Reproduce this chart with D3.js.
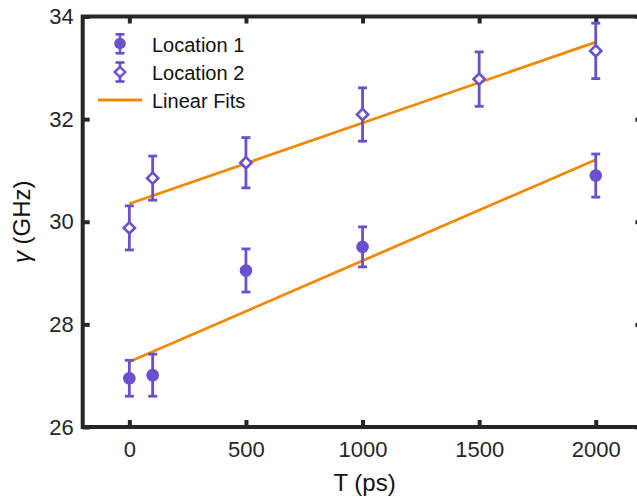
<!DOCTYPE html>
<html>
<head>
<meta charset="utf-8">
<script src="https://cdn.jsdelivr.net/npm/d3@7"></script>
<style>
  body { margin: 0; background: #fff; }
  svg { display: block; }
</style>
</head>
<body>
<svg id="chart" width="637" height="499"></svg>
<script>
// Data
const loc1T = [0, 100, 500, 1000, 2000];
const loc1Gamma = [26.95, 27.01, 29.05, 29.51, 30.90];
const loc1Err = [0.35, 0.41, 0.42, 0.39, 0.42];

const loc2T = [0, 100, 500, 1000, 1500, 2000];
const loc2Gamma = [29.88, 30.85, 31.15, 32.09, 32.78, 33.33];
const loc2Err = [0.43, 0.43, 0.49, 0.52, 0.53, 0.54];

const fitT = [0, 2000];
const fit1Gamma = [27.27, 31.21];
const fit2Gamma = [30.35, 33.50];

const xTicks = [0, 500, 1000, 1500, 2000];
const yTicks = [26, 28, 30, 32, 34];
const legendLabels = ["Location 1", "Location 2", "Linear Fits"];

const purple = "#6a4fcf";
const orange = "#ef8a05";
const axisColor = "#262626";
const font = "'Liberation Sans', Arial, sans-serif";

const svg = d3.select("#chart");
const plotLeft = 82.7, plotRight = 642.4, plotTop = 16.5, plotBottom = 427;

const x = d3.scaleLinear().domain([-200, 2200]).range([plotLeft, plotRight]);
const y = d3.scaleLinear().domain([26, 34]).range([plotBottom, plotTop]);

function styleAxis(g) {
    g.select(".domain").remove();
    g.selectAll(".tick line").attr("stroke", axisColor).attr("stroke-width", 4);
    g.selectAll(".tick text").attr("fill", axisColor);
    g.attr("font-family", font).attr("font-size", 22);
}

// Bottom axis with labels
svg.append("g")
    .attr("transform", `translate(0,${plotBottom})`)
    .call(d3.axisBottom(x).tickValues(xTicks).tickFormat(d3.format("d")).tickSize(-7).tickPadding(14.5))
    .call(styleAxis);

// Top ticks only
svg.append("g")
    .attr("transform", `translate(0,${plotTop})`)
    .call(d3.axisTop(x).tickValues(xTicks).tickSize(-7).tickFormat(""))
    .call(styleAxis);

// Left axis with labels
svg.append("g")
    .attr("transform", `translate(${plotLeft},0)`)
    .call(d3.axisLeft(y).tickValues(yTicks).tickFormat(d3.format("d")).tickSize(-7).tickPadding(9))
    .call(styleAxis);

// Right ticks only
svg.append("g")
    .attr("transform", `translate(${plotRight},0)`)
    .call(d3.axisRight(y).tickValues(yTicks).tickSize(-7).tickFormat(""))
    .call(styleAxis);

// Box
svg.append("rect")
    .attr("x", plotLeft).attr("y", plotTop)
    .attr("width", plotRight - plotLeft).attr("height", plotBottom - plotTop)
    .attr("fill", "none")
    .attr("stroke", axisColor)
    .attr("stroke-width", 4);

// Axis labels
svg.append("text")
    .attr("x", (plotLeft + plotRight) / 2 + 2)
    .attr("y", 491)
    .attr("text-anchor", "middle")
    .attr("font-family", font)
    .attr("font-size", 24)
    .attr("fill", "#111")
    .text("T (ps)");

const yLabel = svg.append("text")
    .attr("transform", `translate(30,${(plotTop + plotBottom) / 2}) rotate(-90)`)
    .attr("text-anchor", "middle")
    .attr("font-family", font)
    .attr("font-size", 24)
    .attr("fill", "#111");
yLabel.append("tspan").attr("font-style", "italic").text("γ");
yLabel.append("tspan").text(" (GHz)");

// Fit lines
const line = d3.line().x(d => x(d[0])).y(d => y(d[1]));
[fit1Gamma, fit2Gamma].forEach(fit => {
    svg.append("path")
        .datum(fitT.map((t, i) => [t, fit[i]]))
        .attr("d", line)
        .attr("fill", "none")
        .attr("stroke", orange)
        .attr("stroke-width", 2.8);
});

// Error bars
function errorBars(ts, vals, errs) {
    const data = ts.map((t, i) => ({t: t, v: vals[i], e: errs[i]}));
    const g = svg.append("g").attr("stroke", purple).attr("stroke-width", 2.8);
    g.selectAll(".bar").data(data).enter().append("line")
        .attr("x1", d => x(d.t)).attr("x2", d => x(d.t))
        .attr("y1", d => y(d.v - d.e)).attr("y2", d => y(d.v + d.e));
    g.selectAll(".capTop").data(data).enter().append("line")
        .attr("x1", d => x(d.t) - 4.5).attr("x2", d => x(d.t) + 4.5)
        .attr("y1", d => y(d.v + d.e)).attr("y2", d => y(d.v + d.e));
    g.selectAll(".capBot").data(data).enter().append("line")
        .attr("x1", d => x(d.t) - 4.5).attr("x2", d => x(d.t) + 4.5)
        .attr("y1", d => y(d.v - d.e)).attr("y2", d => y(d.v - d.e));
    return data;
}

const d1 = errorBars(loc1T, loc1Gamma, loc1Err);
svg.append("g").selectAll("circle").data(d1).enter().append("circle")
    .attr("cx", d => x(d.t)).attr("cy", d => y(d.v))
    .attr("r", 6.3)
    .attr("fill", purple);

const d2 = errorBars(loc2T, loc2Gamma, loc2Err);
const diamond = (cx, cy, s) => `M${cx},${cy - s}L${cx + s},${cy}L${cx},${cy + s}L${cx - s},${cy}Z`;
svg.append("g").selectAll("path").data(d2).enter().append("path")
    .attr("d", d => diamond(x(d.t), y(d.v), 5.6))
    .attr("fill", "#fff")
    .attr("stroke", purple)
    .attr("stroke-width", 2.6);

// Legend
const lx = 120;
const leg = svg.append("g");
// Location 1
leg.append("g").attr("stroke", purple).attr("stroke-width", 2.6).call(g => {
    g.append("line").attr("x1", lx).attr("x2", lx).attr("y1", 34.3).attr("y2", 53.3);
    g.append("line").attr("x1", lx - 4.5).attr("x2", lx + 4.5).attr("y1", 34.3).attr("y2", 34.3);
    g.append("line").attr("x1", lx - 4.5).attr("x2", lx + 4.5).attr("y1", 53.3).attr("y2", 53.3);
});
leg.append("circle").attr("cx", lx).attr("cy", 43.5).attr("r", 5.8).attr("fill", purple);
// Location 2
leg.append("g").attr("stroke", purple).attr("stroke-width", 2.6).call(g => {
    g.append("line").attr("x1", lx).attr("x2", lx).attr("y1", 62.5).attr("y2", 81.5);
    g.append("line").attr("x1", lx - 4.5).attr("x2", lx + 4.5).attr("y1", 62.5).attr("y2", 62.5);
    g.append("line").attr("x1", lx - 4.5).attr("x2", lx + 4.5).attr("y1", 81.5).attr("y2", 81.5);
});
leg.append("path").attr("d", diamond(lx, 72, 5.2))
    .attr("fill", "#fff").attr("stroke", purple).attr("stroke-width", 2.4);
// Linear fits
leg.append("line").attr("x1", 98).attr("x2", 142).attr("y1", 100).attr("y2", 100)
    .attr("stroke", orange).attr("stroke-width", 2.8);

leg.selectAll("text").data(legendLabels).enter().append("text")
    .attr("x", 152)
    .attr("y", (d, i) => 52.3 + i * 28)
    .attr("font-family", font)
    .attr("font-size", 20)
    .attr("fill", "#111")
    .text(d => d);
</script>
</body>
</html>
